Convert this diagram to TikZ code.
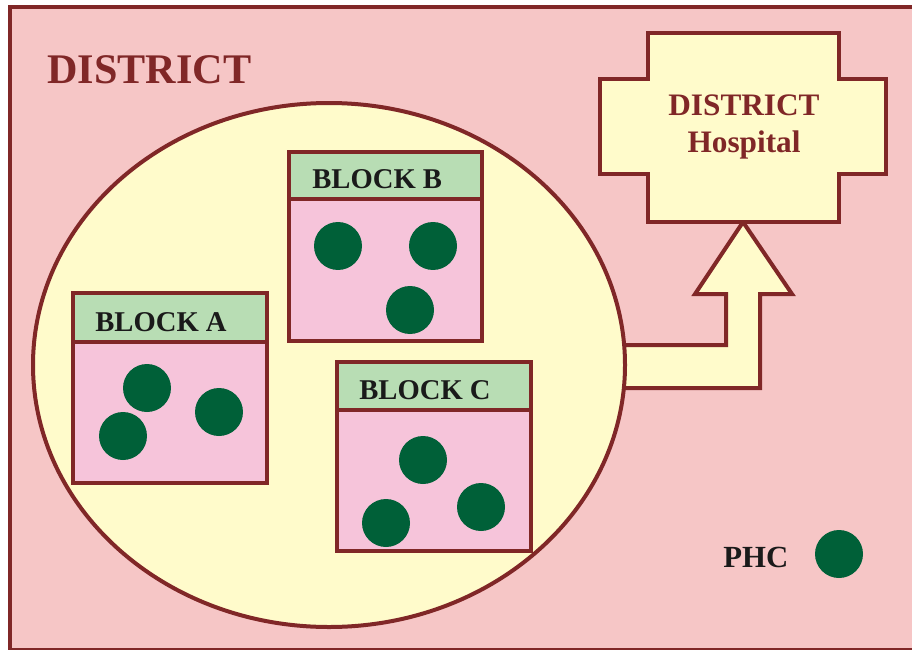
\documentclass[tikz,border=0pt]{standalone}
\usepackage{fontspec}
\setmainfont{Liberation Serif}
\usepackage{tikz}
\definecolor{brd}{RGB}{128,39,39}
\definecolor{bgpink}{RGB}{246,198,198}
\definecolor{ellyellow}{RGB}{255,251,203}
\definecolor{hdgreen}{RGB}{184,221,180}
\definecolor{bodypink}{RGB}{246,196,218}
\definecolor{phcgreen}{RGB}{0,96,56}
\definecolor{ink}{RGB}{26,26,26}
\begin{document}
\begin{tikzpicture}[x=0.02cm, y=-0.02cm,
	outline/.style={draw=brd, line width=0.08cm},
	blockhead/.style={outline, fill=hdgreen},
	blockbody/.style={outline, fill=bodypink},
	blocklabel/.style={anchor=base west, inner sep=0pt, text=ink, font=\fontsize{16.3}{18}\selectfont\bfseries},
	phc/.style={circle, fill=phcgreen, inner sep=0pt, minimum size=0.96cm}]
	\clip (0,0) rectangle (912,649);
	
	\draw [outline, fill=bgpink] (10,7) rectangle (930,650);
	\node [anchor=base west, inner sep=0pt, text=brd, font=\fontsize{24}{28}\selectfont\bfseries] (district) at (47,83) {DISTRICT};
	
	% arrow to the hospital
	\draw [outline, fill=ellyellow] (600,345) -- (726,345) -- (726,294) -- (695,294) -- (743,222)
		-- (792,294) -- (760,294) -- (760,388) -- (600,388) -- cycle;
	
	\draw [outline, fill=ellyellow] (329,365) ellipse [x radius=296, y radius=262];
	
	% hospital
	\draw [outline, fill=ellyellow] (648,33) -- (839,33) -- (839,79) -- (886,79) -- (886,174) -- (839,174)
		-- (839,222) -- (648,222) -- (648,174) -- (600,174) -- (600,79) -- (648,79) -- cycle;
	\node [anchor=base, inner sep=0pt, text=brd, font=\fontsize{17.8}{21}\selectfont\bfseries] (hospA) at (744,115) {DISTRICT};
	\node [anchor=base, inner sep=0pt, text=brd, font=\fontsize{17.8}{21}\selectfont\bfseries] (hospB) at (744,152) {Hospital};
	
	% block A
	\draw [blockbody] (73,342) rectangle (267,483);
	\draw [blockhead] (73,293) rectangle (267,342);
	\node [blocklabel] (labA) at (95,331) {BLOCK A};
	\node [phc] (a1) at (147,388) {};
	\node [phc] (a2) at (123,436) {};
	\node [phc] (a3) at (219,412) {};
	
	% block B
	\draw [blockbody] (289,199) rectangle (482,341);
	\draw [blockhead] (289,152) rectangle (482,199);
	\node [blocklabel] (labB) at (312,188) {BLOCK B};
	\node [phc] (b1) at (338,246) {};
	\node [phc] (b2) at (433,246) {};
	\node [phc] (b3) at (410,310) {};
	
	% block C
	\draw [blockbody] (337,410) rectangle (531,551);
	\draw [blockhead] (337,362) rectangle (531,410);
	\node [blocklabel] (labC) at (359,399) {BLOCK C};
	\node [phc] (c1) at (423,460) {};
	\node [phc] (c2) at (481,507) {};
	\node [phc] (c3) at (386,523) {};
	
	% legend
	\node [anchor=base west, inner sep=0pt, text=ink, font=\fontsize{17.5}{20}\selectfont\bfseries] (phclab) at (723,567) {PHC};
	\node [phc] (phcdot) at (839,554) {};
\end{tikzpicture}
\end{document}
